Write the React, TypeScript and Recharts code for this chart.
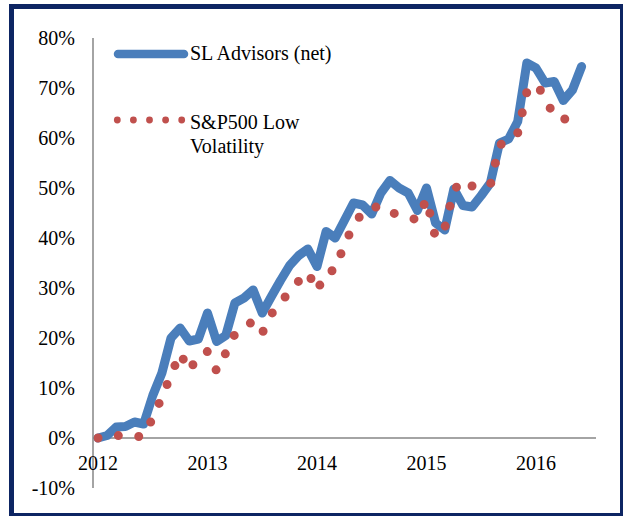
import React from "react";
import { LineChart, Line, XAxis, YAxis, ReferenceLine, Legend } from "recharts";

const months = [
  "2012-01","2012-02","2012-03","2012-04","2012-05","2012-06","2012-07","2012-08","2012-09","2012-10","2012-11","2012-12",
  "2013-01","2013-02","2013-03","2013-04","2013-05","2013-06","2013-07","2013-08","2013-09","2013-10","2013-11","2013-12",
  "2014-01","2014-02","2014-03","2014-04","2014-05","2014-06","2014-07","2014-08","2014-09","2014-10","2014-11","2014-12",
  "2015-01","2015-02","2015-03","2015-04","2015-05","2015-06","2015-07","2015-08","2015-09","2015-10","2015-11","2015-12",
  "2016-01","2016-02","2016-03","2016-04","2016-05","2016-06",
];

const slAdvisors = [
  0, 0.5, 2.2, 2.3, 3.2, 2.8, 8.5, 13, 20, 22,
  19.4, 19.8, 25, 19.3, 20.5, 27, 28, 29.6, 25, 28.3,
  31.5, 34.5, 36.5, 37.8, 34.3, 41.3, 40, 43.5, 47, 46.6,
  44.8, 49, 51.5, 50, 49, 45.5, 50, 43, 41.6, 49.8,
  46.5, 46.2, 48.5, 51, 59, 59.8, 63.3, 75, 74, 71,
  71.3, 67.5, 69.6, 74.3,
];

const spLowVol = [
  0, 0.2, 0.5, 0.4, 0.2, 0.4, 4, 8.2, 12.6, 17,
  13.4, 16.5, 17.3, 13.4, 17, 20.8, 22, 23.4, 21, 24.8,
  27, 29.4, 31.4, 33.2, 29.4, 33.2, 33.6, 38.8, 42.4, 45.2,
  46, 46.4, 45.2, 44.6, 44.2, 43.6, 47.8, 40, 42, 49.6,
  51.6, 50.4, 50.2, 50.6, 58.6, 59.4, 61, 69.2, 70.8, 68.2,
  64.2, 63.8, 63.8, 63.8,
];

const yTicks = [-10, 0, 10, 20, 30, 40, 50, 60, 70, 80];
const yearTicks = [0, 12, 24, 36, 48];
const yearLabels = ["2012", "2013", "2014", "2015", "2016"];
const seriesNames = ["SL Advisors (net)", "S&P500 Low", "Volatility"];

const data = months.map((m, i) => ({ t: i, month: m, sl: slAdvisors[i], sp: spLowVol[i] }));

const FONT = "'Liberation Serif', 'Times New Roman', serif";
const BLUE = "#4a7ebb";
const RED = "#c0504d";
const AXIS = "#868686";
const textStyle = { fontFamily: FONT, fontSize: 20 };

const XTick = (props: any) => {
  const { x, y, payload } = props;
  const idx = yearTicks.indexOf(payload.value);
  return (
    <text x={x} y={y - 18} textAnchor="middle" fill="#000" style={textStyle}>
      {yearLabels[idx]}
    </text>
  );
};

const renderLegend = () => (
  <svg width={260} height={130} style={{ display: "block" }}>
    <line x1={18} y1={24} x2={84} y2={24} stroke={BLUE} strokeWidth={8.5} strokeLinecap="round" />
    <text x={90} y={30} fill="#000" style={textStyle}>{seriesNames[0]}</text>
    {[0, 1, 2, 3, 4].map((k) => (
      <circle key={k} cx={17.3 + k * 16.1} cy={90} r={3.4} fill={RED} />
    ))}
    <text x={90} y={99} fill="#000" style={textStyle}>{seriesNames[1]}</text>
    <text x={90} y={123} fill="#000" style={textStyle}>{seriesNames[2]}</text>
  </svg>
);

export default function App() {
  return (
    <div style={{ position: "absolute", left: 0, top: 0, width: 623, height: 516, background: "#fff", overflow: "hidden", fontFamily: FONT }}>
      <div
        style={{
          position: "absolute",
          left: 9,
          top: 4,
          width: 616,
          height: 514,
          border: "5px solid #0d2563",
          boxSizing: "border-box",
        }}
      />
      <div style={{ position: "absolute", left: 0, top: 0 }}>
        <LineChart width={623} height={516} data={data} margin={{ top: 38, right: 27, bottom: 0, left: 33 }}>
          <XAxis
            dataKey="t"
            type="number"
            domain={[-0.55, 54.58]}
            ticks={yearTicks}
            interval={0}
            height={28}
            axisLine={false}
            tickLine={false}
            tickSize={0}
            tickMargin={0}
            tick={<XTick />}
            allowDataOverflow
          />
          <YAxis
            type="number"
            domain={[-10, 80]}
            ticks={yTicks}
            interval={0}
            width={60}
            axisLine={{ stroke: AXIS, strokeWidth: 1.5 }}
            tickLine={false}
            tickSize={0}
            tickMargin={18}
            tickFormatter={(v: number) => `${v}%`}
            tick={{ fill: "#000", fontSize: 20, fontFamily: FONT, style: textStyle }}
          />
          <ReferenceLine y={0} stroke={AXIS} strokeWidth={1.5} />
          <Legend
            layout="vertical"
            align="center"
            verticalAlign="middle"
            content={renderLegend}
            wrapperStyle={{ left: 100, top: 30, width: 260, height: 130 }}
          />
          <Line
            type="linear"
            dataKey="sl"
            stroke={BLUE}
            strokeWidth={9}
            strokeLinejoin="round"
            strokeLinecap="round"
            dot={false}
            activeDot={false}
            isAnimationActive={false}
          />
          <Line
            type="linear"
            dataKey="sp"
            stroke={RED}
            strokeWidth={9}
            strokeLinecap="round"
            strokeDasharray="0 20.5"
            dot={false}
            activeDot={false}
            isAnimationActive={false}
          />
        </LineChart>
      </div>
    </div>
  );
}
